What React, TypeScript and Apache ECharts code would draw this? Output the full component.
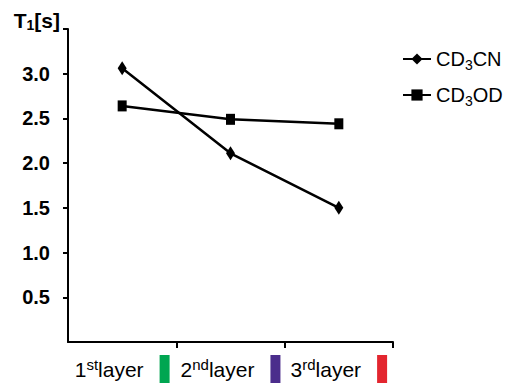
import React, { useEffect, useRef } from "react";
import * as echarts from "echarts";

// Layer categories along the horizontal axis
const layers = ["1", "2", "3"];
const layerSuffix = ["st", "nd", "rd"];
const layerColors = ["#00A651", "#4B2D8C", "#E3262F"];

// T1 relaxation times per layer
const cd3cnValues = [3.06, 2.11, 1.5];
const cd3odValues = [2.64, 2.49, 2.44];

// Axis ticks
const yTicks = [0.5, 1.0, 1.5, 2.0, 2.5, 3.0, 3.5];
const yLabelValues = [0.5, 1.0, 1.5, 2.0, 2.5, 3.0];

const FONT = "'Liberation Sans', Arial, sans-serif";

export default function App() {
  const ref = useRef<HTMLDivElement>(null);

  useEffect(() => {
    if (!ref.current) return;
    const chart = echarts.init(ref.current, undefined, { renderer: "svg" });

    const rich: Record<string, any> = {
      n: { fontSize: 21, fontFamily: FONT, color: "#000" },
      sup: { fontSize: 15, fontFamily: FONT, color: "#000", padding: [0, 0, 10, 0] },
      gap: { width: 16 },
    };
    layers.forEach((_, i) => {
      rich["c" + i] = { width: 10, height: 28, backgroundColor: layerColors[i] };
    });

    const centers = layers.map((_, i) => i + 0.5);

    chart.setOption({
      animation: false,
      grid: { left: 68, right: 116, top: 29, bottom: 40 },
      legend: {
        orient: "vertical",
        left: 397,
        top: 44,
        itemWidth: 28,
        itemHeight: 14,
        itemGap: 13,
        data: ["CD3CN", "CD3OD"],
        formatter: (name: string) => name.replace("3", "{sub|3}"),
        textStyle: {
          fontSize: 20,
          fontFamily: FONT,
          color: "#000",
          rich: {
            sub: { fontSize: 14, fontFamily: FONT, color: "#000", padding: [12, 0, 0, 0] },
          },
        },
      },
      xAxis: {
        type: "value",
        min: 0,
        max: layers.length,
        interval: 1,
        splitLine: { show: false },
        axisLine: { show: true, lineStyle: { color: "#000", width: 2 } },
        axisTick: {
          show: true,
          customValues: [1, 2, 3],
          length: 6,
          lineStyle: { color: "#000", width: 2 },
        },
        axisLabel: {
          customValues: centers,
          margin: 13,
          formatter: (v: number) => {
            const i = Math.floor(v);
            return `{n|${layers[i]}}{sup|${layerSuffix[i]}}{n|layer}{gap|}{c${i}|}`;
          },
          rich,
        },
      },
      yAxis: {
        type: "value",
        min: 0,
        max: 3.5,
        interval: 0.5,
        name: "{b|T}{sub|1}{b|[s]}",
        nameLocation: "end",
        nameGap: 2,
        nameTextStyle: {
          align: "right",
          verticalAlign: "bottom",
          padding: [0, 8, -5, 0],
          rich: {
            b: { fontSize: 21, fontWeight: "bold", fontFamily: FONT, color: "#000" },
            sub: {
              fontSize: 14,
              fontWeight: "bold",
              fontFamily: FONT,
              color: "#000",
              padding: [10, 0, 0, 0],
            },
          },
        },
        splitLine: { show: false },
        axisLine: { show: true, lineStyle: { color: "#000", width: 2 } },
        axisTick: {
          show: true,
          customValues: yTicks,
          length: 5,
          lineStyle: { color: "#000", width: 2 },
        },
        axisLabel: {
          customValues: yLabelValues,
          margin: 18,
          fontSize: 20,
          fontWeight: "bold",
          fontFamily: FONT,
          color: "#000",
          formatter: (v: number) => v.toFixed(1),
        },
      },
      series: [
        {
          name: "CD3CN",
          type: "line",
          data: cd3cnValues.map((v, i) => [centers[i], v]),
          symbol: "diamond",
          symbolSize: [9, 14],
          lineStyle: { color: "#000", width: 2.5 },
          itemStyle: { color: "#000" },
        },
        {
          name: "CD3OD",
          type: "line",
          data: cd3odValues.map((v, i) => [centers[i], v]),
          symbol: "rect",
          symbolSize: [9, 11],
          lineStyle: { color: "#000", width: 2.5 },
          itemStyle: { color: "#000" },
        },
      ],
    });

    return () => chart.dispose();
  }, []);

  return (
    <div
      ref={ref}
      style={{ position: "absolute", left: 0, top: 0, width: 509, height: 383, background: "#fff" }}
    />
  );
}
